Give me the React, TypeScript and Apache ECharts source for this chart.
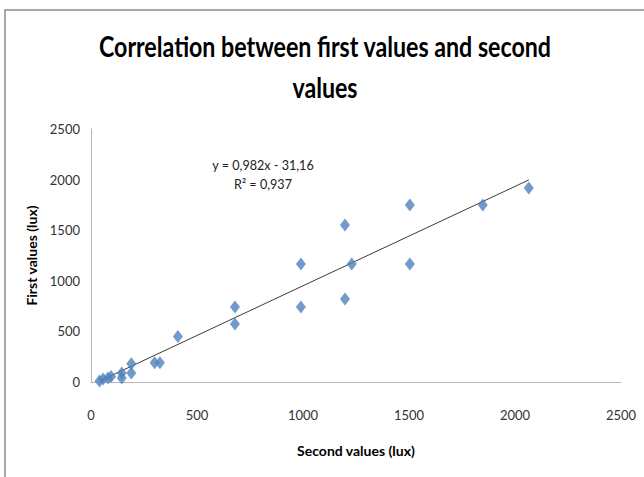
import React, { useEffect, useRef } from "react";
import * as echarts from "echarts";

const titleLines = ["Correlation between first values and second", "values"];
const xAxisName = "Second values (lux)";
const yAxisName = "First values (lux)";
const equationText = "y = 0,982x - 31,16";
const r2Text = "R² = 0,937";

const secondValues = [40, 57, 80, 95, 145, 145, 190, 190, 300, 325, 410, 679, 679, 990, 990, 1198, 1198, 1230, 1504, 1504, 1848, 2065];
const firstValues = [10, 30, 40, 55, 90, 40, 180, 90, 190, 190, 450, 741, 573, 1166, 741, 1551, 820, 1166, 1749, 1166, 1749, 1917];

const slope = 0.982;
const intercept = -31.16;

const axisMin = 0;
const axisMax = 2500;
const axisStep = 500;

export default function App() {
  const ref = useRef<HTMLDivElement>(null);
  useEffect(() => {
    if (!ref.current) return;
    const chart = echarts.init(ref.current, null, { renderer: "svg" });
    const points = secondValues.map((x, i) => [x, firstValues[i]]);
    const xMin = Math.min(...secondValues);
    const xMax = Math.max(...secondValues);
    const trend = [
      [xMin, slope * xMin + intercept],
      [xMax, slope * xMax + intercept],
    ];
    const font = "Lato, 'Open Sans', sans-serif";
    const plain = (v: number) => String(v);
    chart.setOption({
      animation: false,
      backgroundColor: "#ffffff",
      grid: { left: 91, top: 129, right: 23, bottom: 95, containLabel: false },
      xAxis: {
        type: "value",
        min: axisMin,
        max: axisMax,
        interval: axisStep,
        name: xAxisName,
        nameLocation: "middle",
        nameGap: 61,
        nameTextStyle: { fontFamily: font, fontWeight: "bold", fontSize: 14, color: "#000" },
        axisLine: { show: true, lineStyle: { color: "#b8b8b8", width: 1 } },
        axisTick: { show: false },
        splitLine: { show: false },
        axisLabel: { fontFamily: font, fontSize: 13, color: "#333", margin: 26, formatter: plain },
      },
      yAxis: {
        type: "value",
        min: axisMin,
        max: axisMax,
        interval: axisStep,
        name: yAxisName,
        nameLocation: "middle",
        nameGap: 51,
        nameTextStyle: { fontFamily: font, fontWeight: "bold", fontSize: 14, color: "#000" },
        axisLine: { show: true, lineStyle: { color: "#b8b8b8", width: 1 } },
        axisTick: { show: false },
        splitLine: { show: false },
        axisLabel: { fontFamily: font, fontSize: 13, color: "#333", margin: 11, formatter: plain },
      },
      series: [
        {
          type: "line",
          data: trend,
          symbol: "none",
          lineStyle: { color: "#3a3a3a", width: 1 },
          silent: true,
          z: 1,
        },
        {
          type: "scatter",
          data: points,
          symbol: "diamond",
          symbolSize: [10, 13],
          itemStyle: { color: "#4F81BD" },
          z: 2,
        },
      ],
      graphic: [
        {
          type: "rect",
          shape: { x: 5, y: 10, width: 700, height: 520 },
          style: { fill: "none", stroke: "#8a8a8a", lineWidth: 1.5 },
          silent: true,
        },
        {
          type: "text",
          x: 325,
          y: 46,
          scaleX: 0.8,
          style: { text: titleLines[0], fontFamily: font, fontWeight: "bold", fontSize: 29, fill: "#000", align: "center", verticalAlign: "middle" },
        },
        {
          type: "text",
          x: 325,
          y: 87,
          scaleX: 0.8,
          style: { text: titleLines[1], fontFamily: font, fontWeight: "bold", fontSize: 29, fill: "#000", align: "center", verticalAlign: "middle" },
        },
        {
          type: "text",
          x: 263,
          y: 165,
          scaleX: 0.9,
          style: { text: equationText, fontFamily: font, fontSize: 14, fill: "#222", align: "center", verticalAlign: "middle" },
        },
        {
          type: "text",
          x: 263,
          y: 184,
          scaleX: 0.9,
          style: { text: r2Text, fontFamily: font, fontSize: 14, fill: "#222", align: "center", verticalAlign: "middle" },
        },
      ],
    });
    return () => chart.dispose();
  }, []);
  return (
    <div
      ref={ref}
      style={{ position: "fixed", left: 0, top: 0, width: 644, height: 477, background: "#fff" }}
    />
  );
}
